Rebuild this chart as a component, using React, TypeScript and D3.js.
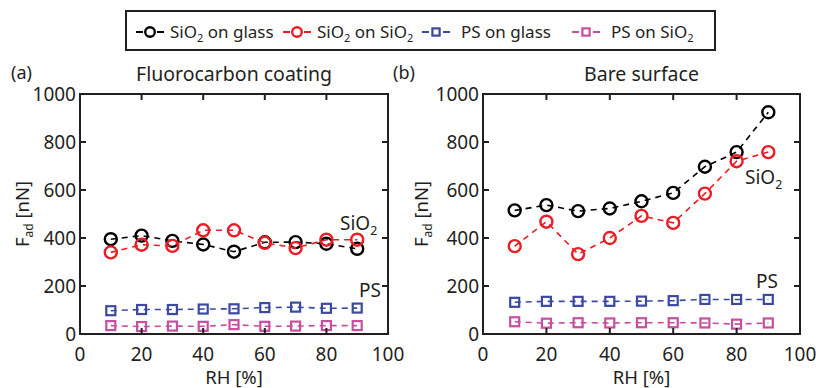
import React from "react";
import * as d3 from "d3";

const rh = [10, 20, 30, 40, 50, 60, 70, 80, 90];

// Fluorocarbon coating (a)
const coatSiO2Glass = [395, 410, 388, 373, 343, 382, 383, 376, 355];
const coatSiO2SiO2 = [340, 372, 367, 432, 432, 380, 358, 393, 393];
const coatPSGlass = [97, 102, 102, 104, 105, 110, 112, 107, 108];
const coatPSSiO2 = [35, 31, 33, 32, 39, 32, 33, 35, 35];

// Bare surface (b)
const bareSiO2Glass = [515, 537, 512, 523, 553, 588, 697, 758, 924];
const bareSiO2SiO2 = [366, 468, 333, 400, 492, 463, 585, 720, 758];
const barePSGlass = [132, 136, 136, 136, 137, 139, 144, 144, 144];
const barePSSiO2 = [51, 45, 47, 46, 47, 47, 46, 41, 46];

const xTicks = [0, 20, 40, 60, 80, 100];
const yTicks = [0, 200, 400, 600, 800, 1000];

const seriesNames = ["SiO_2 on glass", "SiO_2 on SiO_2", "PS on glass", "PS on SiO_2"];
const seriesColors = ["#000000", "#ec1c24", "#3b4aa0", "#c74f9f"];
const seriesShapes = ["circle", "circle", "square", "square"];

const font = "'Noto Sans', 'Open Sans', sans-serif";
const axisColor = "#231f20";

// renders "SiO_2" with the 2 as subscript
const SubText = ({ s, size }: any) => {
  const parts = s.split("_");
  const out: any[] = [];
  parts.forEach((p: string, i: number) => {
    if (i === 0) out.push(<tspan key={i}>{p}</tspan>);
    else {
      out.push(<tspan key={i + "s"} fontSize={size * 0.65} dy={size * 0.25}>{p[0]}</tspan>);
      out.push(<tspan key={i + "r"} dy={-size * 0.25}>{p.slice(1)}</tspan>);
    }
  });
  return <>{out}</>;
};

const Marker = ({ shape, color, x, y, s = 1 }: any) =>
  shape === "circle" ? (
    <circle cx={x} cy={y} r={6 * s} fill="none" stroke={color} strokeWidth={2.4} />
  ) : (
    <rect x={x - 4.5 * s} y={y - 4.5 * s} width={9 * s} height={9 * s} fill="none" stroke={color} strokeWidth={2.2} />
  );

const Panel = ({ left, right, letter, letterX, title, data, siLabel, psLabel, yLabelX }: any) => {
  const top = 94, bottom = 334;
  const x = d3.scaleLinear().domain([0, 100]).range([left, right]);
  const y = d3.scaleLinear().domain([0, 1000]).range([bottom, top]);
  const line = d3.line<number>().x((_, i) => x(rh[i])).y(d => y(d));
  const tick = 6;
  return (
    <g fill="#231f20" fontFamily={font}>
      <text x={letterX} y={79} fontSize={18}>{letter}</text>
      <text x={(left + right) / 2} y={81} fontSize={19.5} textAnchor="middle">{title}</text>
      {data.map((vals: number[], k: number) => (
        <g key={k}>
          <path d={line(vals) || ""} fill="none" stroke={seriesColors[k]} strokeWidth={1.6} strokeDasharray="6,5" />
          {vals.map((v, i) => (
            <Marker key={i} shape={seriesShapes[k]} color={seriesColors[k]} x={x(rh[i])} y={y(v)} />
          ))}
        </g>
      ))}
      <rect x={left} y={top} width={right - left} height={bottom - top} fill="none" stroke={axisColor} strokeWidth={2} />
      {xTicks.map(t => (
        <g key={"x" + t}>
          <line x1={x(t)} x2={x(t)} y1={bottom} y2={bottom - tick} stroke={axisColor} strokeWidth={2} />
          <line x1={x(t)} x2={x(t)} y1={top} y2={top + tick} stroke={axisColor} strokeWidth={2} />
          <text x={x(t)} y={361} fontSize={19} textAnchor="middle">{t}</text>
        </g>
      ))}
      {yTicks.map(t => (
        <g key={"y" + t}>
          <line x1={left} x2={left + tick} y1={y(t)} y2={y(t)} stroke={axisColor} strokeWidth={2} />
          <line x1={right} x2={right - tick} y1={y(t)} y2={y(t)} stroke={axisColor} strokeWidth={2} />
          <text x={left - 4} y={y(t) + 7} fontSize={19} textAnchor="end">{t}</text>
        </g>
      ))}
      <text x={(left + right) / 2} y={384} fontSize={18.5} textAnchor="middle">RH [%]</text>
      <text transform={`translate(${yLabelX},${(top + bottom) / 2}) rotate(-90)`} fontSize={18.5} textAnchor="middle">
        F<tspan fontSize={12} dy={4}>ad</tspan><tspan dy={-4}> [nN]</tspan>
      </text>
      <text x={siLabel[0]} y={siLabel[1]} fontSize={19}>
        <SubText s="SiO_2" size={19} />
      </text>
      <text x={psLabel[0]} y={psLabel[1]} fontSize={19}>PS</text>
    </g>
  );
};

const Legend = () => {
  const markerX = [150, 297, 436, 586];
  const textX = [170, 317, 461, 611];
  const cy = 32;
  return (
    <g fontFamily={font} fill="#231f20">
      <rect x={126} y={11} width={589} height={39} fill="white" stroke={axisColor} strokeWidth={2} />
      {seriesNames.map((name, k) => (
        <g key={k}>
          <line x1={markerX[k] - 14} x2={markerX[k] + 14} y1={cy} y2={cy} stroke={seriesColors[k]} strokeWidth={2} strokeDasharray="7,14,7" />
          <Marker shape={seriesShapes[k]} color={seriesColors[k]} x={markerX[k]} y={cy} s={0.8} />
          <text x={textX[k]} y={38} fontSize={17}>
            <SubText s={name} size={17} />
          </text>
        </g>
      ))}
    </g>
  );
};

export default function App() {
  return (
    <svg width={816} height={388} style={{ position: "absolute", left: 0, top: 0, background: "white" }}>
      <Legend />
      <Panel
        left={80}
        right={388}
        letter="(a)"
        letterX={11}
        title="Fluorocarbon coating"
        data={[coatSiO2Glass, coatSiO2SiO2, coatPSGlass, coatPSSiO2]}
        siLabel={[340, 230]}
        psLabel={[359, 297]}
        yLabelX={29}
      />
      <Panel
        left={483}
        right={800}
        letter="(b)"
        letterX={393}
        title="Bare surface"
        data={[bareSiO2Glass, bareSiO2SiO2, barePSGlass, barePSSiO2]}
        siLabel={[745, 184]}
        psLabel={[756, 288]}
        yLabelX={428}
      />
    </svg>
  );
}
